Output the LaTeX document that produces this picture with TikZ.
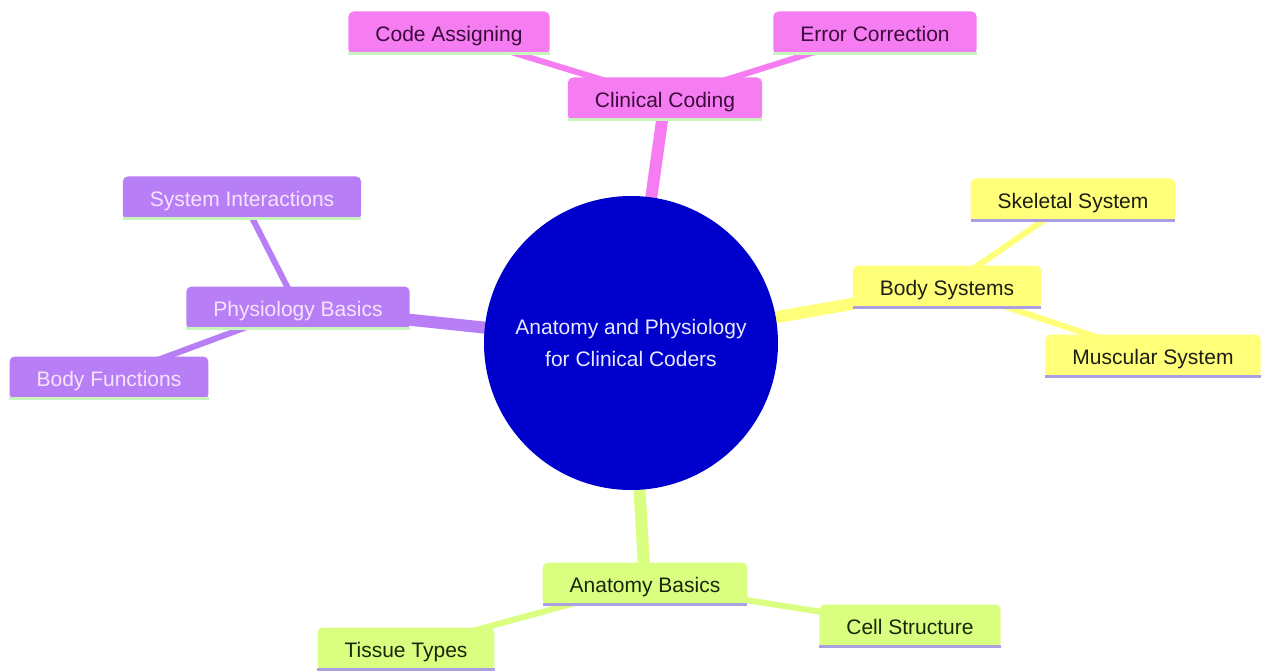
\documentclass[tikz,border=0pt]{standalone}
\usepackage{fontspec}
\setmainfont{Liberation Sans}
\usetikzlibrary{backgrounds}
\definecolor{pinkF}{RGB}{246,124,242}
\definecolor{pinkT}{RGB}{60,10,60}
\definecolor{purpF}{RGB}{184,126,246}
\definecolor{purpT}{RGB}{246,228,255}
\definecolor{yelF}{RGB}{255,255,122}
\definecolor{yelT}{RGB}{30,30,20}
\definecolor{grnF}{RGB}{218,254,128}
\definecolor{grnT}{RGB}{25,40,10}
\definecolor{rootF}{RGB}{0,0,205}
\definecolor{rootT}{RGB}{230,232,255}
\definecolor{lineG}{RGB}{200,244,190}
\definecolor{lineL}{RGB}{170,160,225}
\tikzset{
  box/.style={rectangle, rounded corners=5pt, inner xsep=27pt, inner ysep=0pt,
    minimum height=43pt, text height=18pt, text depth=1pt, font=\fontsize{21}{25}\selectfont},
  pinkbox/.style={box, fill=pinkF, text=pinkT},
  purpbox/.style={box, fill=purpF, text=purpT},
  yelbox/.style={box, fill=yelF, text=yelT},
  grnbox/.style={box, fill=grnF, text=grnT},
  rootnode/.style={circle, fill=rootF, text=rootT, minimum size=294pt, inner sep=0pt,
    align=center, font=\fontsize{21}{32}\selectfont},
  bigedge/.style={line width=12pt},
  smalledge/.style={line width=6pt},
  underline/.style={line width=3pt},
}
\begin{document}
\begin{tikzpicture}[x=1pt,y=-1pt]
\useasboundingbox (0,0) rectangle (1261,671);
\node[rootnode] (root) at (631,343) {Anatomy and Physiology\\for Clinical Coders};
\node[pinkbox] (cc) at (665,99) {Clinical Coding};
\node[pinkbox] (ca) at (449,33) {Code Assigning};
\node[pinkbox] (ec) at (875,33) {Error Correction};
\node[yelbox] (bs) at (947,287) {Body Systems};
\node[yelbox] (ss) at (1073,200) {Skeletal System};
\node[yelbox] (ms) at (1153,356) {Muscular System};
\node[grnbox] (ab) at (645,584) {Anatomy Basics};
\node[grnbox] (cs) at (910,626) {Cell Structure};
\node[grnbox] (tt) at (406,649) {Tissue Types};
\node[purpbox] (pb) at (298,308) {Physiology Basics};
\node[purpbox] (si) at (242,198) {System Interactions};
\node[purpbox] (bf) at (109,378) {Body Functions};
\begin{pgfonlayer}{background}
\draw[bigedge, pinkF] (root.center) -- (cc.center);
\draw[smalledge, pinkF] (cc.center) -- (ca.center);
\draw[smalledge, pinkF] (cc.center) -- (ec.center);
\draw[bigedge, yelF] (root.center) -- (bs.center);
\draw[smalledge, yelF] (bs.center) -- (ss.center);
\draw[smalledge, yelF] (bs.center) -- (ms.center);
\draw[bigedge, grnF] (root.center) -- (ab.center);
\draw[smalledge, grnF] (ab.center) -- (cs.center);
\draw[smalledge, grnF] (ab.center) -- (tt.center);
\draw[bigedge, purpF] (root.center) -- (pb.center);
\draw[smalledge, purpF] (pb.center) -- (si.center);
\draw[smalledge, purpF] (pb.center) -- (bf.center);
\end{pgfonlayer}
\foreach \n in {cc,ca,ec,pb,si,bf}{
  \draw[underline, lineG] ([yshift=1.5pt]\n.south west) -- ([yshift=1.5pt]\n.south east);
}
\foreach \n in {bs,ss,ms,ab,cs,tt}{
  \draw[underline, lineL] ([yshift=1.5pt]\n.south west) -- ([yshift=1.5pt]\n.south east);
}
\end{tikzpicture}
\end{document}
